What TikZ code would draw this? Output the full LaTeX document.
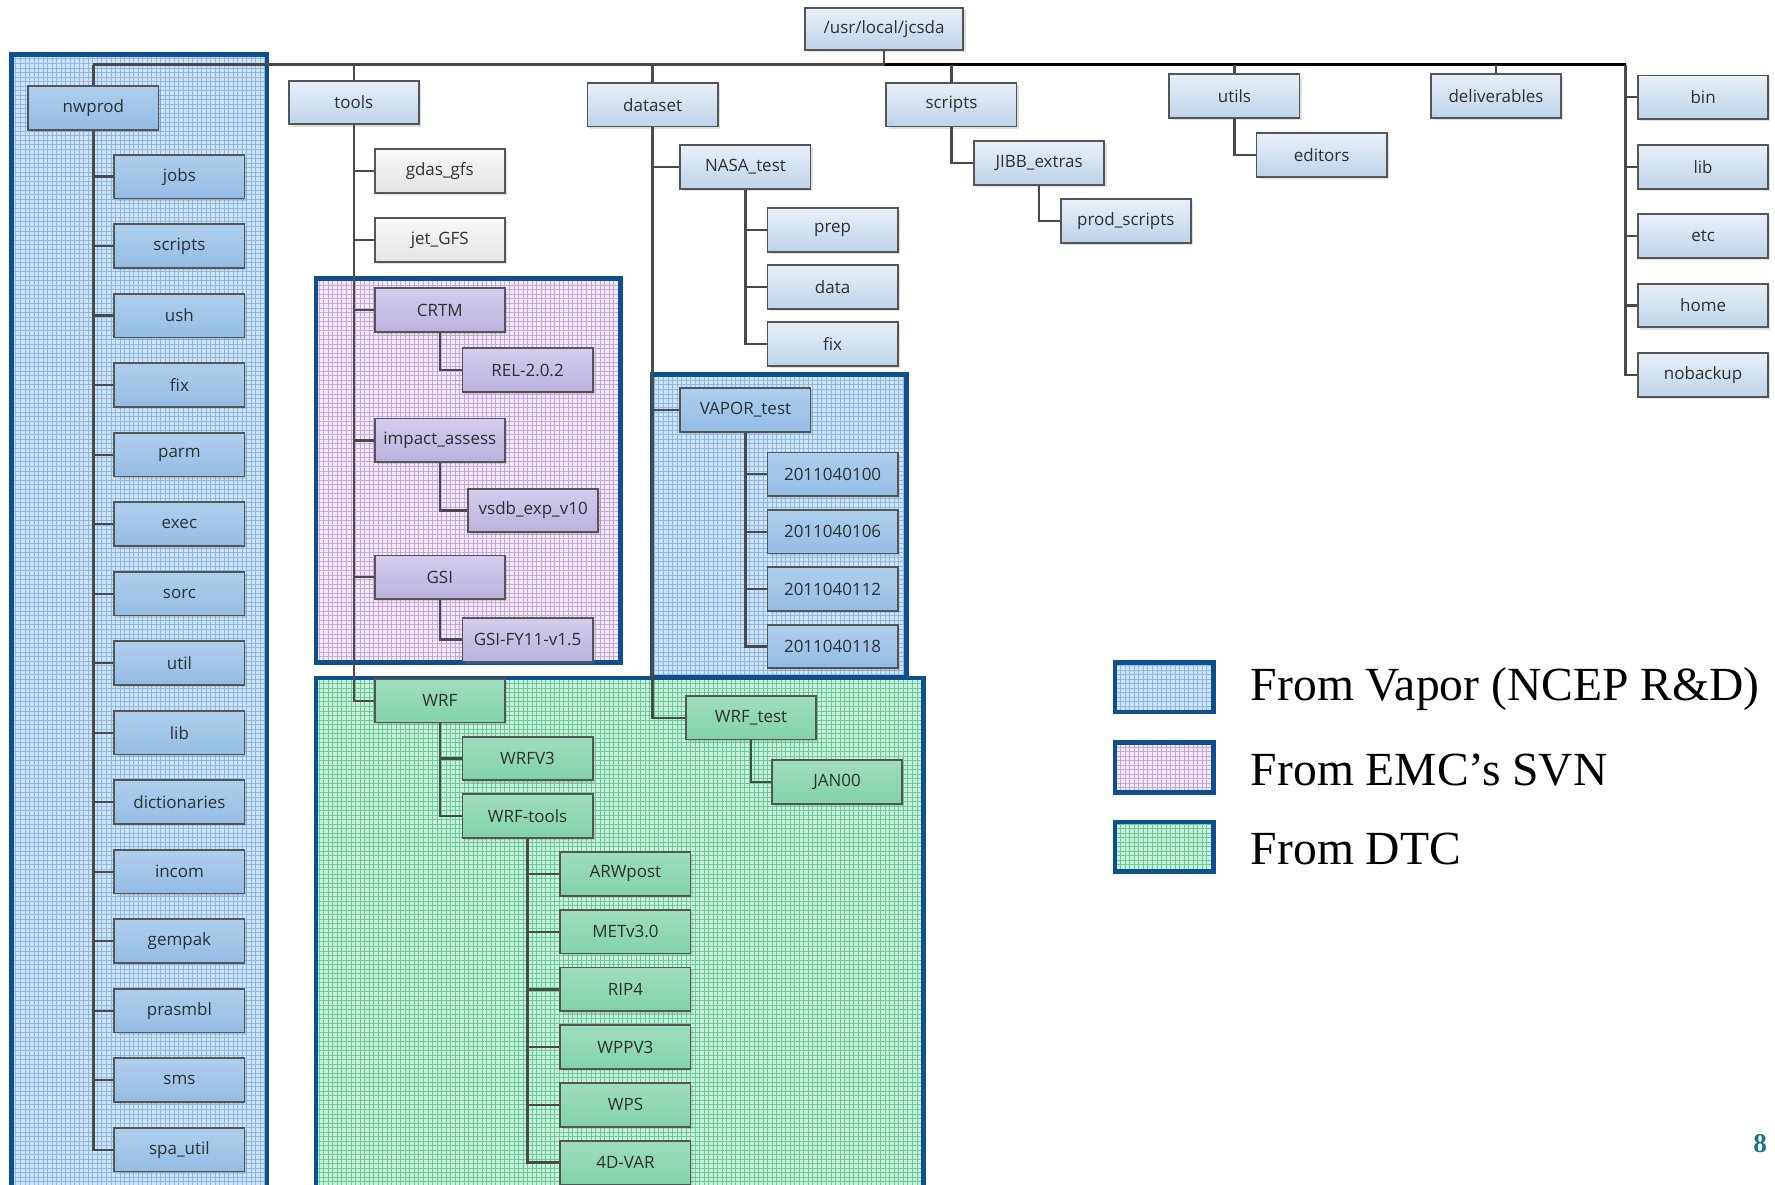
\documentclass[tikz,border=0pt]{standalone}
\usepackage{fontspec}
\setmainfont{Liberation Serif}
\newfontfamily\boxfont{Open Sans}
\usetikzlibrary{patterns,shadows}

\definecolor{regline}{HTML}{0F4F8F}
\definecolor{conn}{HTML}{4A4A4A}
\definecolor{boxline}{HTML}{555555}
\definecolor{boxtext}{HTML}{303030}
\definecolor{boxtop}{HTML}{E8F0F8}
\definecolor{boxbot}{HTML}{BED3E8}
\definecolor{vapfill}{HTML}{CFE3F5}
\definecolor{vapgrid}{HTML}{8DB9E3}
\definecolor{emcfill}{HTML}{F1E9F5}
\definecolor{emcgrid}{HTML}{C7A8DA}
\definecolor{emctop}{HTML}{D3CDEC}
\definecolor{emcbot}{HTML}{BAB2DD}
\definecolor{dtcfill}{HTML}{C8F0DA}
\definecolor{dtcgrid}{HTML}{6ACB9A}
\definecolor{pagenum}{HTML}{1F6F8B}

% fine grid texture of the source areas
\pgfdeclarepatternformonly{fgrid}{\pgfpoint{-0.1pt}{-0.1pt}}{\pgfpoint{2.1pt}{2.1pt}}{\pgfpoint{2pt}{2pt}}{%
  \pgfsetlinewidth{0.35pt}%
  \pgfpathmoveto{\pgfpoint{0pt}{1pt}}\pgfpathlineto{\pgfpoint{2pt}{1pt}}%
  \pgfpathmoveto{\pgfpoint{1pt}{0pt}}\pgfpathlineto{\pgfpoint{1pt}{2pt}}%
  \pgfusepath{stroke}}

\begin{document}
\begin{tikzpicture}[x=0.5pt,y=-0.5pt,
   dir/.style={draw=boxline,line width=0.8pt,top color=boxtop,bottom color=boxbot,
     minimum width=57.5pt,minimum height=19.3pt,inner sep=0pt,text=boxtext,
     font=\boxfont\fontsize{7.5}{9}\selectfont,
     drop shadow={shadow xshift=1pt,shadow yshift=-1pt,opacity=0.25}},
   plain/.style={dir,top color=gray!4,bottom color=gray!22},
   vap/.style={dir,top color=vapgrid!70,bottom color=vapgrid!95},
   emc/.style={dir,top color=emctop,bottom color=emcbot},
   dtc/.style={dir,top color=dtcgrid!65,bottom color=dtcgrid!85},
   link/.style={draw=conn,line width=1pt},
   zone/.style={draw=regline,line width=2pt,preaction={fill=#1fill},pattern=fgrid,pattern color=#1grid},
   key/.style={anchor=west,font=\fontsize{21}{24}\selectfont}]
  \clip (0,0) rectangle (1568,1046);
  \fill[white] (0,0) rectangle (1568,1046);

  % source areas
  \path[zone=vap] (10,48) rectangle (236,1080);
  \path[zone=emc] (279,246) rectangle (548,585);
  \path[zone=vap] (576,331) rectangle (801,598);
  \path[zone=dtc] (279,599) rectangle (816,1080);

  % top level
  \node[dir,minimum width=70pt,minimum height=18.5pt] (root) at (781,25.5) {/usr/local/jcsda};
  \node[vap] (nwprod) at (82.5,95.5) {nwprod};
  \node[dir] (tools) at (312.5,90.5) {tools};
  \node[dir] (dataset) at (576.5,92.5) {dataset};
  \node[dir] (scripts) at (840.5,92.5) {scripts};
  \node[dir] (utils) at (1090.5,85) {utils};
  \node[dir] (deliv) at (1321.5,85) {deliverables};
  \foreach \t [count=\i] in {bin,lib,etc,home,nobackup}
    \node[dir] (r\i) at (1504.5,{86+61.3*(\i-1)}) {\t};

  % nwprod
  \foreach \t [count=\i] in {jobs,scripts,ush,fix,parm,exec,sorc,util,lib,dictionaries,
      incom,gempak,prasmbl,sms,{spa\_util}}
    \node[vap] (n\i) at (158.5,{156+61.4*(\i-1)}) {\t};

  % tools
  \node[plain] (gdas) at (388.5,151) {gdas\_gfs};
  \node[plain] (jet) at (388.5,212) {jet\_GFS};
  \node[emc] (crtm) at (388.5,274) {CRTM};
  \node[emc] (rel) at (466,327) {REL-2.0.2};
  \node[emc] (impact) at (388.5,389) {impact\_assess};
  \node[emc] (vsdb) at (471,451) {vsdb\_exp\_v10};
  \node[emc] (gsi) at (388.5,510) {GSI};
  \node[emc] (gsify) at (466,565) {GSI-FY11-v1.5};
  \node[dtc] (wrf) at (388.5,619) {WRF};
  \node[dtc] (wrfv3) at (466,670) {WRFV3};
  \node[dtc] (wrftools) at (466,721) {WRF-tools};
  \foreach \t [count=\i] in {ARWpost,METv3.0,RIP4,WPPV3,WPS,4D-VAR}
    \node[dtc] (w\i) at (552.5,{772+51*(\i-1)}) {\t};

  % dataset
  \node[dir] (nasa) at (658.5,147.5) {NASA\_test};
  \foreach \t [count=\i] in {prep,data,fix}
    \node[dir] (a\i) at (735.5,{203+50.5*(\i-1)}) {\t};
  \node[vap] (vapor) at (658.5,362) {VAPOR\_test};
  \foreach \t [count=\i] in {2011040100,2011040106,2011040112,2011040118}
    \node[vap] (v\i) at (735.5,{419+50.7*(\i-1)}) {\t};
  \node[dtc] (wrftest) at (663.5,634) {WRF\_test};
  \node[dtc] (jan) at (739.5,691) {JAN00};

  % scripts, utils
  \node[dir] (jibb) at (918,144) {JIBB\_extras};
  \node[dir] (prod) at (994.5,195) {prod\_scripts};
  \node[dir] (editors) at (1167.5,137) {editors};

  % connectors
  \coordinate (busL) at (82.5,57);
  \coordinate (busR) at (1436,57);
  \draw[link] (busL) -- (busL -| root);
  \draw[link,draw=black,line width=1.6pt] (busL -| root) -- (busR);
  \draw[link] (root.south) -- (root.south |- busL);
  \foreach \n in {nwprod,tools,dataset,scripts,utils,deliv}
    \draw[link] (\n.north) -- (\n.north |- busL);
  \foreach \i in {1,...,5} \draw[link] (busR) |- (r\i.west);
  \foreach \i in {1,...,15} \draw[link] (nwprod.south) |- (n\i.west);
  \foreach \n in {gdas,jet,crtm,impact,gsi,wrf} \draw[link] (tools.south) |- (\n.west);
  \draw[link] (crtm.south) |- (rel.west);
  \draw[link] (impact.south) |- (vsdb.west);
  \draw[link] (gsi.south) |- (gsify.west);
  \draw[link] (wrf.south) |- (wrfv3.west);
  \draw[link] (wrf.south) |- (wrftools.west);
  \foreach \i in {1,...,6} \draw[link] (wrftools.south) |- (w\i.west);
  \foreach \n in {nasa,vapor,wrftest} \draw[link] (dataset.south) |- (\n.west);
  \foreach \i in {1,...,3} \draw[link] (nasa.south) |- (a\i.west);
  \foreach \i in {1,...,4} \draw[link] (vapor.south) |- (v\i.west);
  \draw[link] (wrftest.south) |- (jan.west);
  \draw[link] (scripts.south) |- (jibb.west);
  \draw[link] (jibb.south) |- (prod.west);
  \draw[link] (utils.south) |- (editors.west);

  % legend
  \path[zone=vap] (985,585) rectangle (1072,629);
  \path[zone=emc] (985,656) rectangle (1072,700);
  \path[zone=dtc] (985,726) rectangle (1072,770);
  \node[key] (kvap) at (1098,609) {From Vapor (NCEP R\&D)};
  \node[key] (kemc) at (1098,680) {From EMC’s SVN};
  \node[key] (kdtc) at (1098,750) {From DTC};

  \node[anchor=east,text=pagenum,font=\bfseries\fontsize{12}{14}\selectfont] (page) at (1568,1010) {8};
\end{tikzpicture}
\end{document}
